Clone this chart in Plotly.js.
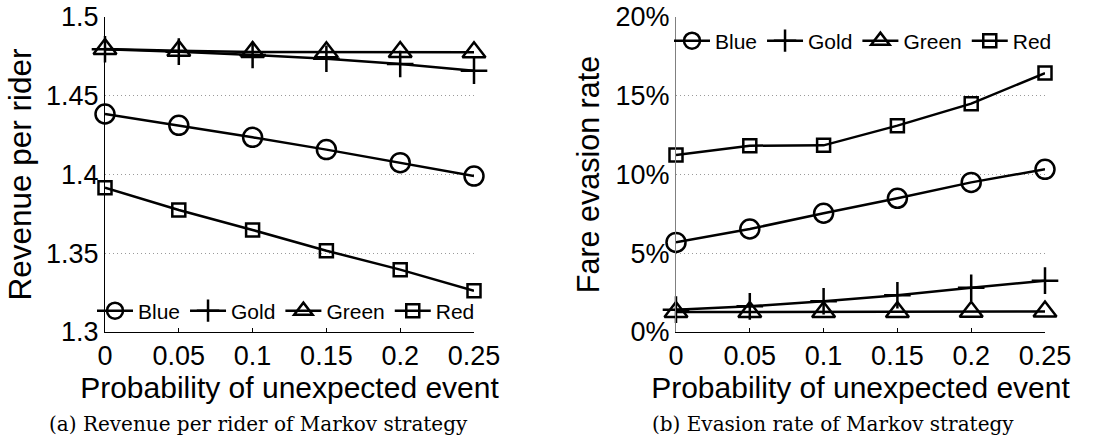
<!DOCTYPE html>
<html>
<head>
<meta charset="utf-8">
<script src="https://cdn.plot.ly/plotly-3.0.1.min.js"></script>
<style>
html,body{margin:0;padding:0;background:#fff;}
#chart{width:1112px;height:448px;}
</style>
</head>
<body>
<div id="chart"></div>
<script>
// ---- data ----
const probs = [0, 0.05, 0.1, 0.15, 0.2, 0.25];
const seriesNames = ["Blue", "Gold", "Green", "Red"];

const revenueBlue  = [1.4384, 1.4312, 1.4236, 1.4158, 1.4075, 1.3990];
const revenueGold  = [1.4795, 1.4780, 1.4759, 1.4735, 1.4702, 1.4659];
const revenueGreen = [1.4797, 1.4785, 1.4778, 1.4776, 1.4778, 1.4776];
const revenueRed   = [1.3916, 1.3775, 1.3648, 1.3516, 1.3396, 1.3262];

const evasionBlue  = [0.0569, 0.0654, 0.0754, 0.0849, 0.0950, 0.1033];
const evasionGold  = [0.0142, 0.0163, 0.0195, 0.0233, 0.0281, 0.0326];
const evasionGreen = [0.0127, 0.0127, 0.0127, 0.0127, 0.0128, 0.0130];
const evasionRed   = [0.1124, 0.1183, 0.1185, 0.1310, 0.1450, 0.1644];

const xTickVals = [0, 0.05, 0.1, 0.15, 0.2, 0.25];
const xTickText = ["0", "0.05", "0.1", "0.15", "0.2", "0.25"];
const revTickVals = [1.3, 1.35, 1.4, 1.45, 1.5];
const revTickText = ["1.3", "1.35", "1.4", "1.45", "1.5"];
const evaTickVals = [0, 0.05, 0.1, 0.15, 0.2];
const evaTickText = ["0%", "5%", "10%", "15%", "20%"];

const xTitle = "Probability of unexpected event";
const revTitle = "Revenue per rider";
const evaTitle = "Fare evasion rate";
const captionA = "(a) Revenue per rider of Markov strategy";
const captionB = "(b) Evasion rate of Markov strategy";

// ---- styles ----
const symbols = {Blue: "circle-open", Gold: "cross-thin-open", Green: "triangle-up-open", Red: "square-open"};
const sizes = {Blue: 19, Gold: 19, Green: 20, Red: 13};
const sans = "Liberation Sans, Arial, Helvetica, sans-serif";

function mk(name, y, xa, ya, lg) {
  return {
    x: probs, y: y, name: name, type: "scatter", mode: "lines+markers",
    xaxis: xa, yaxis: ya, legend: lg, showlegend: true, cliponaxis: false,
    line: {color: "#000", width: 2.5},
    marker: {symbol: symbols[name], size: sizes[name], color: "#000",
             line: {color: "#000", width: 2.5}}
  };
}

const revData = [revenueBlue, revenueGold, revenueGreen, revenueRed];
const evaData = [evasionBlue, evasionGold, evasionGreen, evasionRed];
const traces = [];
seriesNames.forEach((n, i) => traces.push(mk(n, revData[i], "x", "y", "legend")));
seriesNames.forEach((n, i) => traces.push(mk(n, evaData[i], "x2", "y2", "legend2")));

const W = 1112, H = 448;
const px = v => v / W, py = v => 1 - v / H;

const xaxisBase = {
  range: [0, 0.25], tickvals: xTickVals, ticktext: xTickText,
  showline: true, linecolor: "#000", linewidth: 1, mirror: false,
  ticks: "inside", ticklen: 4, tickcolor: "#000", tickwidth: 1,
  showgrid: false, zeroline: false,
  tickfont: {family: sans, size: 27, color: "#000"},
  title: {text: xTitle, font: {family: sans, size: 30, color: "#000"}, standoff: 4},
  fixedrange: true
};

const yGrid = {showgrid: true, gridcolor: "#9a9a9a", gridwidth: 1, griddash: "1px,3px"};

const layout = {
  width: W, height: H,
  margin: {l: 0, r: 0, t: 0, b: 0},
  paper_bgcolor: "#fff", plot_bgcolor: "#fff",
  xaxis: Object.assign({}, xaxisBase, {domain: [px(105), px(474)], anchor: "y"}),
  xaxis2: Object.assign({}, xaxisBase, {domain: [px(676), px(1045)], anchor: "y2"}),
  yaxis: Object.assign({
    domain: [py(332), py(17)], anchor: "x",
    range: [1.3, 1.5], tickvals: revTickVals, ticktext: revTickText,
    showline: true, linecolor: "#000", linewidth: 1,
    ticks: "", zeroline: false,
    tickfont: {family: sans, size: 27, color: "#000"},
    title: {text: revTitle, font: {family: sans, size: 31.5, color: "#000"}, standoff: 5},
    fixedrange: true
  }, yGrid),
  yaxis2: Object.assign({
    domain: [py(332), py(17)], anchor: "x2",
    range: [0, 0.2], tickvals: evaTickVals, ticktext: evaTickText,
    showline: true, linecolor: "#808080", linewidth: 1,
    ticks: "", zeroline: false,
    tickfont: {family: sans, size: 27, color: "#000"},
    title: {text: evaTitle, font: {family: sans, size: 30.5, color: "#000"}, standoff: 6},
    fixedrange: true
  }, yGrid),
  legend: {
    orientation: "h", x: px(92), y: py(311), xanchor: "left", yanchor: "middle",
    bgcolor: "rgba(0,0,0,0)", borderwidth: 0, itemwidth: 36,
    font: {family: sans, size: 21, color: "#000"},
    itemclick: false, itemdoubleclick: false, tracegroupgap: 0
  },
  legend2: {
    orientation: "h", x: px(669), y: py(41), xanchor: "left", yanchor: "middle",
    bgcolor: "rgba(0,0,0,0)", borderwidth: 0, itemwidth: 36,
    font: {family: sans, size: 21, color: "#000"},
    itemclick: false, itemdoubleclick: false, tracegroupgap: 0
  },
  annotations: [
    {text: captionA, xref: "paper", yref: "paper", x: px(258), y: py(424),
     xanchor: "center", yanchor: "middle", showarrow: false,
     font: {family: "DejaVu Serif, serif", size: 20, color: "#000"}},
    {text: captionB, xref: "paper", yref: "paper", x: px(833), y: py(424),
     xanchor: "center", yanchor: "middle", showarrow: false,
     font: {family: "DejaVu Serif, serif", size: 20, color: "#000"}}
  ]
};

Plotly.newPlot("chart", traces, layout, {displayModeBar: false, staticPlot: true});
</script>
</body>
</html>
